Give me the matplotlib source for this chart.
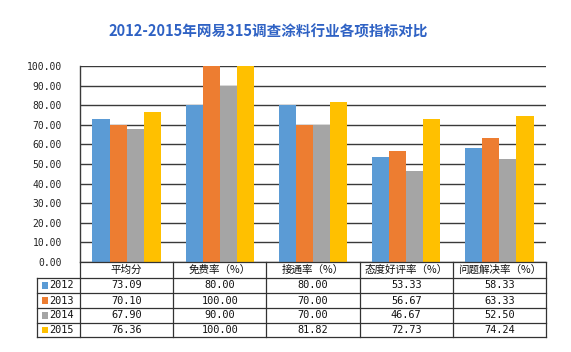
import matplotlib
matplotlib.use("Agg")
import matplotlib.pyplot as plt
import matplotlib.transforms as mtransforms
from matplotlib.lines import Line2D
from matplotlib.patches import Rectangle

plt.rcParams['font.family'] = ['Noto Sans CJK SC', 'DejaVu Sans']

title = "2012-2015年网易315调查涂料行业各项指标对比"
categories = ["平均分", "免费率（%）", "接通率（%）", "态度好评率（%）", "问题解决率（%）"]
years = ["2012", "2013", "2014", "2015"]
v2012 = [73.09, 80.00, 80.00, 53.33, 58.33]
v2013 = [70.10, 100.00, 70.00, 56.67, 63.33]
v2014 = [67.90, 90.00, 70.00, 46.67, 52.50]
v2015 = [76.36, 100.00, 81.82, 72.73, 74.24]
series = [v2012, v2013, v2014, v2015]
colors = ["#5B9BD5", "#ED7D31", "#A5A5A5", "#FFC000"]
yticks = [0, 10, 20, 30, 40, 50, 60, 70, 80, 90, 100]

W, H = 571, 352
fig = plt.figure(figsize=(W / 100, H / 100), dpi=100)
fig.patch.set_facecolor("white")

left_px, right_px, top_px, bot_px = 80, 546, 66, 262
ax = fig.add_axes([left_px / W, 1 - bot_px / H, (right_px - left_px) / W, (bot_px - top_px) / H])

n = len(categories)
bw = 0.183
for j, (vals, c) in enumerate(zip(series, colors)):
    xs = [i + (j - 1.5) * bw for i in range(n)]
    ax.bar(xs, vals, width=bw, color=c, zorder=3, linewidth=0)

ax.set_xlim(-0.5, n - 0.5)
ax.set_ylim(0, 100)
ax.set_yticks(yticks)
ax.set_yticklabels([f"{t:.2f}" for t in yticks], family="DejaVu Sans Mono", fontsize=7.0, color="#222222")
ax.tick_params(axis="y", length=0, pad=13)
ax.set_xticks([])
for t in yticks:
    ax.axhline(t, color="#3a3a3a", lw=1.0, zorder=1)
for s in ["right", "bottom", "top"]:
    ax.spines[s].set_visible(False)
ax.spines["left"].set_color("#3a3a3a")
ax.spines["left"].set_linewidth(1.0)

fig.text(268 / W, 1 - 32 / H, title, ha="center", va="center", fontsize=10.5,
         fontweight="bold", color="#2F62C4")

# table below the plot
tr = mtransforms.blended_transform_factory(ax.transData, fig.transFigure)
def fy(p):
    return 1 - p / H

row_edges = [262, 278, 293, 308, 323, 337]
xl = -0.5 - 43 / 93.2
xr = n - 0.5
lc = "#333333"
lw = 0.9
fig.add_artist(Line2D([-0.5, xr], [fy(row_edges[0])] * 2, transform=tr, color=lc, lw=lw))
for r in row_edges[1:]:
    fig.add_artist(Line2D([xl, xr], [fy(r)] * 2, transform=tr, color=lc, lw=lw))
fig.add_artist(Line2D([xl, xl], [fy(row_edges[1]), fy(row_edges[-1])], transform=tr, color=lc, lw=lw))
for i in range(n + 1):
    fig.add_artist(Line2D([i - 0.5, i - 0.5], [fy(row_edges[0]), fy(row_edges[-1])], transform=tr, color=lc, lw=lw))

for i, cat in enumerate(categories):
    fig.text(i, fy((row_edges[0] + row_edges[1]) / 2), cat, transform=tr, ha="center", va="center",
             fontsize=7.6, color="#111111")
for j, (yr, vals, c) in enumerate(zip(years, series, colors)):
    yc = fy((row_edges[j + 1] + row_edges[j + 2]) / 2)
    fig.add_artist(Rectangle((xl + 5 / 93.2, yc - 3.2 / H), 6.5 / 93.2, 6.5 / H, transform=tr,
                             facecolor=c, edgecolor="none"))
    fig.text(xl + 12.5 / 93.2, yc, yr, transform=tr, ha="left", va="center", fontsize=7.4,
             family="DejaVu Sans Mono", color="#111111")
    for i, v in enumerate(vals):
        fig.text(i, yc, f"{v:.2f}", transform=tr, ha="center", va="center", fontsize=7.4,
                 family="DejaVu Sans Mono", color="#111111")

fig.savefig("out.png", dpi=100, facecolor="white")
